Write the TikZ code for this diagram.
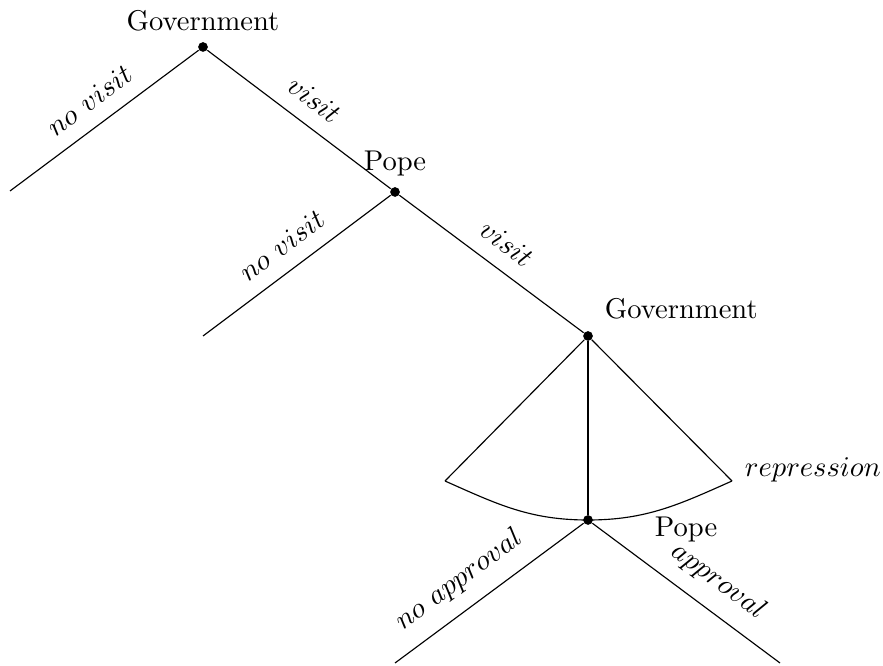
\documentclass[tikz,border=0pt]{standalone}
\usetikzlibrary{positioning}
\begin{document}
\begin{tikzpicture}[x=0.35pt,y=-0.35pt,
	dot/.style={circle,fill,inner sep=0pt,minimum size=3.4pt},
	move/.style={sloped,above=2pt}]
	\useasboundingbox (0,0) rectangle (883,666);
	\node[dot,label=above:Government] (gov) at (203,47) {};
	\node[dot,label=above:Pope] (pope) at (395,192) {};
	\node[dot,label={[label distance=1.5pt]above right:Government}] (govb) at (588,336) {};
	\node[dot] (popeb) at (588,520) {};
	\node[right=18pt of popeb,yshift=-3.5pt] (popeblbl) {Pope};
	\coordinate (nv) at (10,191);
	\coordinate (nvb) at (203,336);
	\coordinate (fanl) at (445,481);
	\coordinate (fanr) at (732,481);
	\coordinate (noap) at (395,663);
	\coordinate (ap) at (780,663);
	\node[right=1pt of fanr,yshift=3.8pt] (rep) {$repression$};
	\draw (gov) -- node[move]{$no\ visit$} (nv);
	\draw (gov) -- node[move]{$visit$} (pope);
	\draw (pope) -- node[move]{$no\ visit$} (nvb);
	\draw (pope) -- node[move]{$visit$} (govb);
	\draw (govb) -- (fanl);
	\draw (govb) -- (fanr);
	\draw (govb) -- (popeb);
	\draw (fanl) to[out=-24,in=180] (popeb.center) to[out=0,in=204] (fanr);
	\draw (popeb) -- node[move,pos=.57]{$no\ approval$} (noap);
	\draw (popeb) -- node[move,pos=.58]{$approval$} (ap);
\end{tikzpicture}
\end{document}
